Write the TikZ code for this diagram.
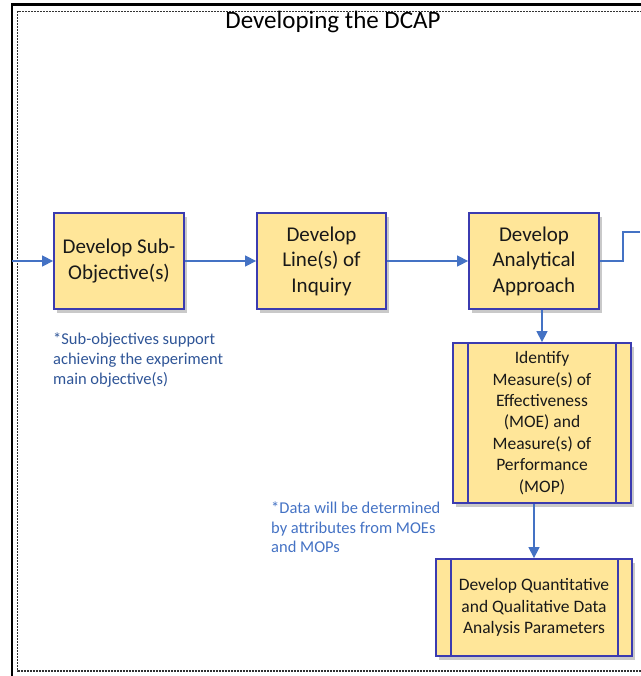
\documentclass[tikz,border=0pt]{standalone}
\usepackage{fontspec}
\setmainfont{Carlito}
\usetikzlibrary{arrows.meta,shadows}
\definecolor{boxfill}{HTML}{FFE699}
\definecolor{boxline}{HTML}{3B3BB0}
\definecolor{flowblue}{HTML}{4472C4}
\definecolor{notedark}{HTML}{2F5597}
\definecolor{notelight}{HTML}{4472C4}
\begin{document}
\begin{tikzpicture}[x=1pt,y=-1pt,
    procbox/.style={draw=boxline, line width=1.8pt, fill=boxfill, inner sep=0pt,
        align=center, minimum width=130pt, minimum height=96pt, text=black!90,
        font=\fontsize{21}{25.5}\selectfont,
        drop shadow={shadow xshift=3pt, shadow yshift=-4pt, opacity=0.3, fill=black!70}},
    predbox/.style={procbox, font=\fontsize{17.5}{21.4}\selectfont},
    flow/.style={draw=flowblue, line width=1.4pt, -{Triangle[length=11pt,width=11pt]}},
    flowline/.style={draw=flowblue, line width=1.4pt},
    note/.style={anchor=north west, align=left, inner sep=0pt,
        font=\fontsize{16.5}{19.6}\selectfont}]
    \useasboundingbox (0,0) rectangle (640,676);

    % outer frame
    \draw[line width=2.5pt] (12,676) -- (12,4.5) -- (645,4.5);
    \draw[black!80, line width=1.2pt, dash pattern=on 2pt off 1pt]
        (645,11.5) -- (17.5,11.5) -- (17.5,671) -- (645,671);
    \node (title) at (333,22) {\fontsize{25}{30}\selectfont Developing the DCAP};

    % main row
    \node[procbox] (sub) at (119,261) {Develop Sub-\\Objective(s)};
    \node[procbox, minimum width=129pt] (loi) at (321.5,261) {Develop\\Line(s) of\\Inquiry};
    \node[procbox] (apr) at (534,261) {Develop\\Analytical\\Approach};

    % predefined processes
    \node[predbox, minimum width=178pt, minimum height=160pt] (moe) at (542,423)
        {Identify\\Measure(s) of\\Effectiveness\\(MOE) and\\Measure(s) of\\Performance\\(MOP)};
    \draw[boxline, line width=1.8pt] ([xshift=16pt]moe.north west) -- ([xshift=16pt]moe.south west);
    \draw[boxline, line width=1.8pt] ([xshift=-16pt]moe.north east) -- ([xshift=-16pt]moe.south east);

    \node[predbox, minimum width=196pt, minimum height=97pt] (dqa) at (534,607.5)
        {Develop Quantitative\\and Qualitative Data\\Analysis Parameters};
    \draw[boxline, line width=1.8pt] ([xshift=16pt]dqa.north west) -- ([xshift=16pt]dqa.south west);
    \draw[boxline, line width=1.8pt] ([xshift=-15pt]dqa.north east) -- ([xshift=-15pt]dqa.south east);

    % notes
    \node[note, text=notedark] (subnote) at (53,333)
        {*Sub-objectives support\\achieving the experiment\\main objective(s)};
    \node[note, text=notelight] (datanote) at (271,501.5)
        {*Data will be determined\\by attributes from MOEs\\and MOPs};

    % connectors
    \coordinate (in) at (12,261);
    \coordinate (out) at (640,232);
    \draw[flow] (in) -- (sub.west);
    \draw[flow] (sub.east) -- (loi.west);
    \draw[flow] (loi.east) -- (apr.west);
    \draw[flowline] (apr.east) -- (623,261) |- (out);
    \draw[flow] (moe.north |- apr.south) -- (moe.north);
    \draw[flow] (dqa.north |- moe.south) -- (dqa.north);
\end{tikzpicture}
\end{document}
